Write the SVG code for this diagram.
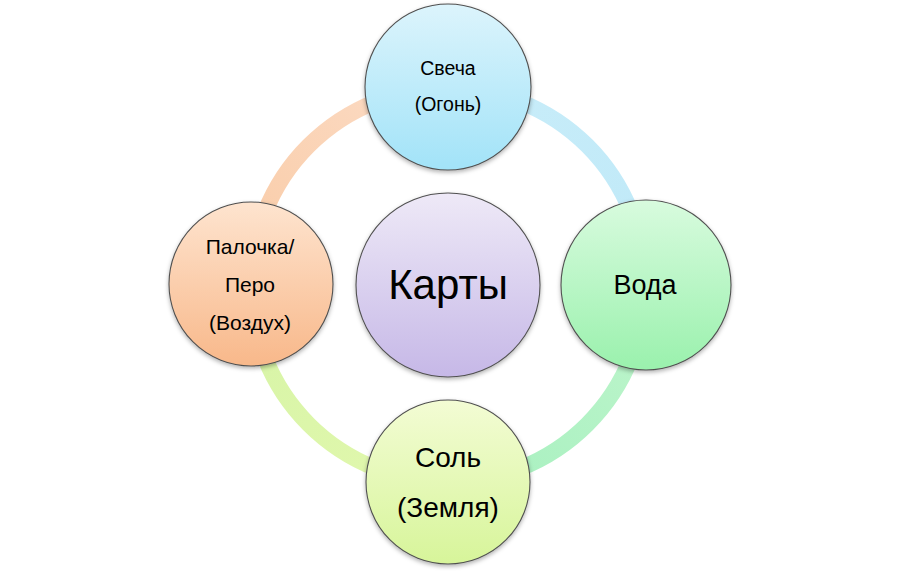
<svg xmlns="http://www.w3.org/2000/svg" width="900" height="573" viewBox="0 0 900 573">
<defs>
<style>
.node{stroke:#505050;stroke-width:1.1}
.t{font-family:"Liberation Sans","Open Sans",sans-serif;fill:#000;text-anchor:middle}
.ring{fill:none;stroke-width:16;stroke-linecap:butt}
</style>
<filter id="sh" x="-20%" y="-20%" width="140%" height="150%">
<feDropShadow dx="0" dy="2" stdDeviation="2" flood-color="#000" flood-opacity="0.3"/>
</filter>
<linearGradient id="gTop" x1="0" y1="0" x2="0" y2="1"><stop offset="0" stop-color="#dcf4fc"/><stop offset="1" stop-color="#a2e3f8"/></linearGradient>
<linearGradient id="gRight" x1="0" y1="0" x2="0" y2="1"><stop offset="0" stop-color="#d8fbde"/><stop offset="1" stop-color="#9af1ad"/></linearGradient>
<linearGradient id="gBottom" x1="0" y1="0" x2="0" y2="1"><stop offset="0" stop-color="#f3fcd4"/><stop offset="1" stop-color="#d7f59a"/></linearGradient>
<linearGradient id="gLeft" x1="0" y1="0" x2="0" y2="1"><stop offset="0" stop-color="#fee4cf"/><stop offset="1" stop-color="#f8b88a"/></linearGradient>
<linearGradient id="gCenter" x1="0" y1="0" x2="0" y2="1"><stop offset="0" stop-color="#eee9f7"/><stop offset="1" stop-color="#c6b8e7"/></linearGradient>
<linearGradient id="aTL" gradientUnits="userSpaceOnUse" x1="251" y1="285" x2="448" y2="88"><stop offset="0" stop-color="#f9cba6"/><stop offset="1" stop-color="#fcdcc6"/></linearGradient>
<linearGradient id="aTR" gradientUnits="userSpaceOnUse" x1="448" y1="88" x2="645" y2="285"><stop offset="0" stop-color="#c9edf9"/><stop offset="1" stop-color="#bfe9f8"/></linearGradient>
<linearGradient id="aRB" gradientUnits="userSpaceOnUse" x1="645" y1="285" x2="448" y2="482"><stop offset="0" stop-color="#bff5cc"/><stop offset="1" stop-color="#a6f0bf"/></linearGradient>
<linearGradient id="aBL" gradientUnits="userSpaceOnUse" x1="448" y1="482" x2="251" y2="285"><stop offset="0" stop-color="#e2f8ae"/><stop offset="1" stop-color="#d6f4a6"/></linearGradient>
</defs>
<rect width="900" height="573" fill="#fff"/>
<g id="connectors">
<path class="ring" stroke="url(#aTL)" d="M 251 285 A 197 197 0 0 1 448 88"/>
<path class="ring" stroke="url(#aTR)" d="M 448 88 A 197 197 0 0 1 645 285"/>
<path class="ring" stroke="url(#aRB)" d="M 645 285 A 197 197 0 0 1 448 482"/>
<path class="ring" stroke="url(#aBL)" d="M 448 482 A 197 197 0 0 1 251 285"/>
</g>
<g id="node-center">
<circle class="node" cx="448" cy="285" r="92" fill="url(#gCenter)" filter="url(#sh)"/>
<text class="t" x="448" y="299" font-size="42">Карты</text>
</g>
<g id="node-top">
<circle class="node" cx="448" cy="87" r="83" fill="url(#gTop)" filter="url(#sh)"/>
<text class="t" x="448" y="75" font-size="19.5">Свеча</text>
<text class="t" x="448" y="111" font-size="19.5">(Огонь)</text>
</g>
<g id="node-right">
<circle class="node" cx="646" cy="285" r="85" fill="url(#gRight)" filter="url(#sh)"/>
<text class="t" x="645" y="294" font-size="27">Вода</text>
</g>
<g id="node-bottom">
<circle class="node" cx="448" cy="482" r="82" fill="url(#gBottom)" filter="url(#sh)"/>
<text class="t" x="448" y="467" font-size="28">Соль</text>
<text class="t" x="448" y="517" font-size="28">(Земля)</text>
</g>
<g id="node-left">
<circle class="node" cx="251" cy="284" r="82" fill="url(#gLeft)" filter="url(#sh)"/>
<text class="t" x="250" y="254" font-size="21">Палочка/</text>
<text class="t" x="250" y="292" font-size="21">Перо</text>
<text class="t" x="250" y="330" font-size="21">(Воздух)</text>
</g>
</svg>
